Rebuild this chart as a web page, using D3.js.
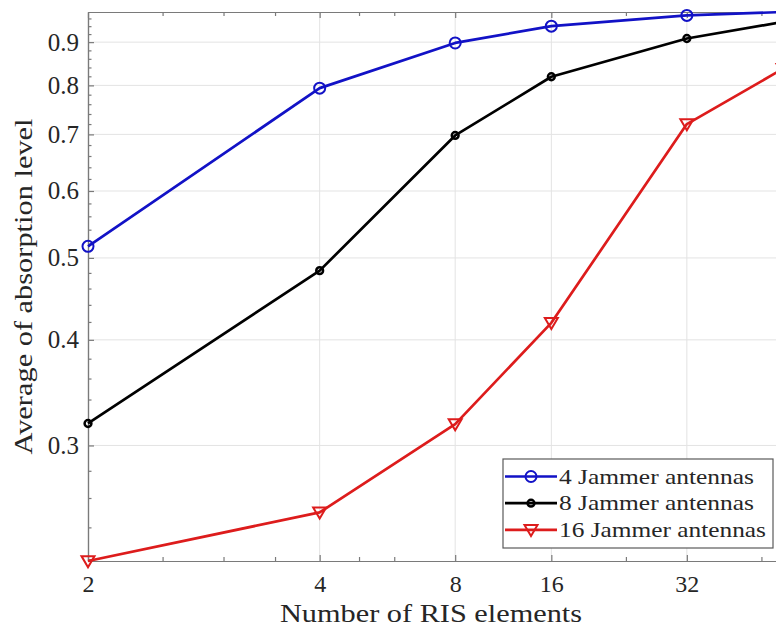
<!DOCTYPE html>
<html>
<head>
<meta charset="utf-8">
<script src="https://cdn.jsdelivr.net/npm/d3@7"></script>
<style>
  html, body { margin: 0; padding: 0; background: #fff; }
  svg { display: block; }
</style>
</head>
<body>
<svg id="chart" width="776" height="630"></svg>
<script>
// Positions of the measurement points on the logarithmic x axis
const xPos = [1, 2, 3, 4, 6, 8];
// Labels shown at the labelled x ticks (number of RIS elements)
const xTickPos = [1, 2, 3, 4, 6];
const xTickLabels = ["2", "4", "8", "16", "32"];
const xMinorTicks = [1.25, 1.5, 1.75, 2.25, 2.5, 5, 7.5];

// Average absorption level for each jammer configuration
const jam4 = [0.516, 0.794, 0.898, 0.940, 0.968, 0.977];
const jam8 = [0.3185, 0.483, 0.698, 0.819, 0.909, 0.951];
const jam16 = [0.219, 0.250, 0.318, 0.419, 0.720, 0.837];

const seriesNames = ["4 Jammer antennas", "8 Jammer antennas", "16 Jammer antennas"];

const yTicks = [0.3, 0.4, 0.5, 0.6, 0.7, 0.8, 0.9];
const yTickLabels = ["0.3", "0.4", "0.5", "0.6", "0.7", "0.8", "0.9"];

const FONT = "'Liberation Serif', 'Times New Roman', 'DejaVu Serif', serif";
const TEXT_COLOR = "#262626";

const series = [
  { name: seriesNames[0], values: jam4, color: "#1212c6", marker: "circle", labelWidth: 195 },
  { name: seriesNames[1], values: jam8, color: "#000000", marker: "dot", labelWidth: 195 },
  { name: seriesNames[2], values: jam16, color: "#dd1c1c", marker: "triangle", labelWidth: 207 }
];

const svg = d3.select("#chart");
const margin = { left: 88, top: 12, right: 783, bottom: 561 };

const allValues = jam4.concat(jam8, jam16);
const x = d3.scaleLog().domain(d3.extent(xPos)).range([margin.left, margin.right]);
const y = d3.scaleLog().domain(d3.extent(allValues)).range([margin.bottom, margin.top]);

// minor y ticks every 0.02 within the visible range
const yMinorTicks = d3.range(22, 98, 2).map(v => v / 100)
  .filter(v => v >= y.domain()[0] && v <= y.domain()[1] && !yTicks.some(t => Math.abs(t - v) < 1e-9));

const axisColor = "#7a7a7a";
const gridColor = "#e3e3e3";

// grid
const grid = svg.append("g");
grid.selectAll(".gx").data(xTickPos.slice(1)).join("line")
  .attr("x1", d => x(d)).attr("x2", d => x(d))
  .attr("y1", margin.top).attr("y2", margin.bottom)
  .attr("stroke", gridColor).attr("stroke-width", 1);
grid.selectAll(".gy").data(yTicks).join("line")
  .attr("x1", margin.left).attr("x2", margin.right)
  .attr("y1", d => y(d)).attr("y2", d => y(d))
  .attr("stroke", gridColor).attr("stroke-width", 1);

// axes with inward ticks (bottom, top, left)
const bottomAxis = d3.axisBottom(x).tickValues(xTickPos)
  .tickFormat((d, i) => xTickLabels[i]).tickSizeInner(-6).tickSizeOuter(0).tickPadding(14);
const gb = svg.append("g").attr("transform", `translate(0,${margin.bottom})`).call(bottomAxis);
gb.selectAll("text").attr("font-size", 24).attr("font-family", FONT).attr("fill", TEXT_COLOR);

const bottomMinor = d3.axisBottom(x).tickValues(xMinorTicks).tickFormat("").tickSizeInner(-4).tickSizeOuter(0);
svg.append("g").attr("transform", `translate(0,${margin.bottom})`).call(bottomMinor);

const topAxis = d3.axisTop(x).tickValues(xTickPos).tickFormat("").tickSizeInner(-6).tickSizeOuter(0);
svg.append("g").attr("transform", `translate(0,${margin.top})`).call(topAxis);
const topMinor = d3.axisTop(x).tickValues(xMinorTicks).tickFormat("").tickSizeInner(-4).tickSizeOuter(0);
svg.append("g").attr("transform", `translate(0,${margin.top})`).call(topMinor);

const leftAxis = d3.axisLeft(y).tickValues(yTicks)
  .tickFormat((d, i) => yTickLabels[i]).tickSizeInner(-6).tickSizeOuter(0).tickPadding(9);
const gl = svg.append("g").attr("transform", `translate(${margin.left},0)`).call(leftAxis);
gl.selectAll("text").attr("font-size", 25).attr("font-family", FONT).attr("fill", TEXT_COLOR);
const leftMinor = d3.axisLeft(y).tickValues(yMinorTicks).tickFormat("").tickSizeInner(-3.5).tickSizeOuter(0);
svg.append("g").attr("transform", `translate(${margin.left},0)`).call(leftMinor);

svg.selectAll(".domain").attr("stroke", axisColor).attr("stroke-width", 1.2);
svg.selectAll(".tick line").attr("stroke", axisColor).attr("stroke-width", 1.2);

// axis titles
svg.append("text")
  .attr("x", 431).attr("y", 622)
  .attr("text-anchor", "middle").attr("font-size", 26)
  .attr("font-family", FONT).attr("fill", TEXT_COLOR)
  .attr("textLength", 302).attr("lengthAdjust", "spacingAndGlyphs")
  .text("Number of RIS elements");
svg.append("text")
  .attr("transform", `translate(32,${(margin.top + margin.bottom) / 2}) rotate(-90)`)
  .attr("text-anchor", "middle").attr("font-size", 26)
  .attr("font-family", FONT).attr("fill", TEXT_COLOR)
  .attr("textLength", 336).attr("lengthAdjust", "spacingAndGlyphs")
  .text("Average of absorption level");

// markers
function drawMarker(g, type, color, cx, cy) {
  if (type === "circle") {
    g.append("circle").attr("cx", cx).attr("cy", cy).attr("r", 5.5)
      .attr("fill", "none").attr("stroke", color).attr("stroke-width", 2);
  } else if (type === "dot") {
    g.append("circle").attr("cx", cx).attr("cy", cy).attr("r", 3.4)
      .attr("fill", "none").attr("stroke", color).attr("stroke-width", 2.5);
  } else {
    const s = 6.5;
    g.append("path")
      .attr("d", `M${cx - s},${cy - s * 0.75} L${cx + s},${cy - s * 0.75} L${cx},${cy + s * 0.95} Z`)
      .attr("fill", "none").attr("stroke", color).attr("stroke-width", 2);
  }
}

const line = d3.line().x((d, i) => x(xPos[i])).y(d => y(d));
const plot = svg.append("g");
series.forEach(s => {
  plot.append("path").datum(s.values)
    .attr("d", line).attr("fill", "none")
    .attr("stroke", s.color).attr("stroke-width", 2.7).attr("stroke-linejoin", "round");
  s.values.forEach((v, i) => drawMarker(plot, s.marker, s.color, x(xPos[i]), y(v)));
});

// legend
const lg = svg.append("g");
const lgX = 503, lgY = 459, lgW = 270, lgH = 89;
lg.append("rect").attr("x", lgX).attr("y", lgY).attr("width", lgW).attr("height", lgH)
  .attr("fill", "#fff").attr("stroke", "#5a5a5a").attr("stroke-width", 1.2);
series.forEach((s, i) => {
  const cy = lgY + 17.5 + i * 26.7;
  lg.append("line").attr("x1", lgX + 2).attr("x2", lgX + 54)
    .attr("y1", cy).attr("y2", cy).attr("stroke", s.color).attr("stroke-width", 2.7);
  drawMarker(lg, s.marker, s.color, lgX + 28, cy);
  lg.append("text").attr("x", lgX + 56).attr("y", cy + 7)
    .attr("font-size", 21).attr("font-family", FONT).attr("fill", TEXT_COLOR)
    .attr("textLength", s.labelWidth).attr("lengthAdjust", "spacingAndGlyphs")
    .text(s.name);
});
</script>
</body>
</html>
